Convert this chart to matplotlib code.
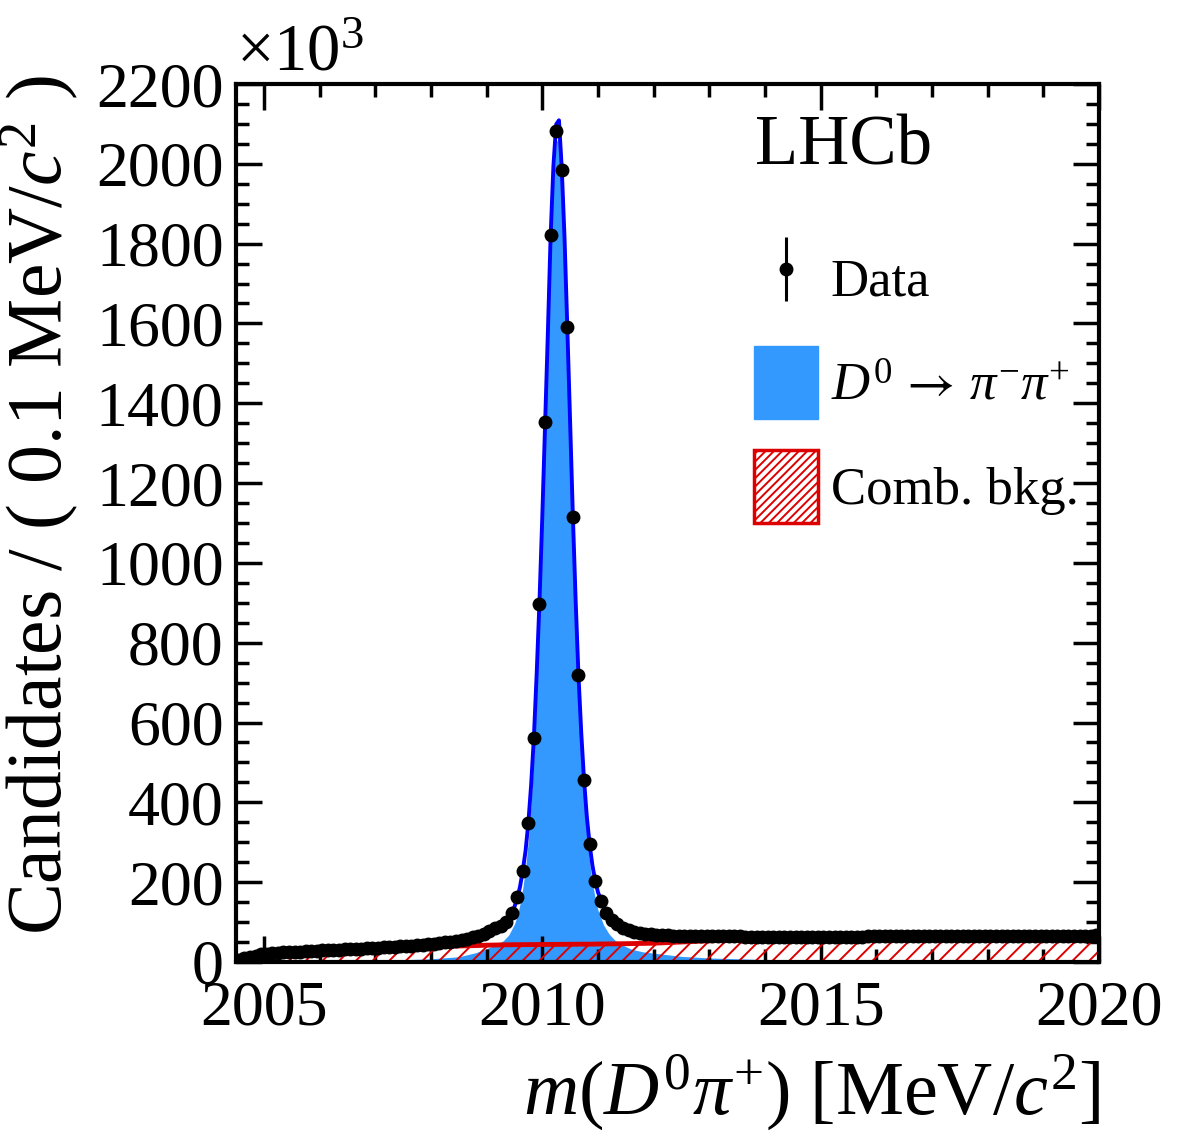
import numpy as np
import matplotlib
matplotlib.use("Agg")
import matplotlib.pyplot as plt
from matplotlib.legend_handler import HandlerErrorbar
from matplotlib.patches import Patch
from matplotlib.ticker import MultipleLocator

plt.rcParams["font.family"] = "Liberation Serif"
plt.rcParams["mathtext.fontset"] = "custom"
plt.rcParams["mathtext.rm"] = "Liberation Serif"
plt.rcParams["mathtext.it"] = "Liberation Serif:italic"
plt.rcParams["mathtext.bf"] = "Liberation Serif:bold"
plt.rcParams["mathtext.sf"] = "STIXGeneral"  # only used for the long arrow
plt.rcParams["hatch.linewidth"] = 1.4

# binning: 0.1 MeV bins from 2004.5 to 2020
BIN_LO, BIN_HI, BIN_W = 2004.5, 2020.0, 0.1

# data, candidates per bin in units of 10^3
data_left = [6, 10, 13, 16, 19, 21, 22, 23, 24, 25,
             25.5, 26, 27, 27.5, 28, 29, 29.5, 30, 31, 31.5,
             32, 33, 33.5, 34, 35, 36, 36.5, 37, 38, 39,
             40, 41, 42, 43, 44.5, 46, 47.5, 49, 51, 53,
             55.5, 58, 62, 66, 71, 77, 84, 91]
data_peak = [101, 123, 162, 229, 349, 560, 896, 1354, 1821, 2081,
             1984, 1590, 1115, 718, 456, 295, 203, 153, 123, 106,
             94, 86, 80, 76, 73, 71, 69.5, 68.5, 67.5, 66.5,
             66, 65.5, 65.2]
data_right = [65.0, 64.8, 64.6, 64.4, 64.3, 64.1, 64.0, 63.9, 63.8, 63.8,
              63.7, 63.6, 63.6, 63.5, 63.5, 63.4, 63.4, 63.3, 63.4, 63.3,
              63.3, 63.4, 63.3, 63.4, 63.4, 63.5, 63.4, 63.5, 63.6, 63.6,
              63.7, 63.7, 63.8, 63.8, 63.9, 64.0, 64.0, 64.1, 64.1, 64.2,
              64.3, 64.3, 64.4, 64.4, 64.5, 64.6, 64.6, 64.7, 64.7, 64.8,
              64.9, 64.9, 65.0, 65.1, 65.1, 65.2, 65.2, 65.3, 65.4, 65.4,
              65.5, 65.5, 65.6, 65.7, 65.7, 65.8, 65.8, 65.9, 66.0, 66.0,
              66.1, 66.1, 66.2, 66.3]

# fit components (10^3 per 0.1 MeV) on a grid, fine around the peak
fit_x = [2004.5, 2004.6, 2004.8, 2005.0, 2005.5, 2006.0, 2006.5, 2007.0,
         2007.5, 2008.0, 2008.5, 2008.8, 2009.0, 2009.2, 2009.3, 2009.4,
         2009.5, 2009.55, 2009.6, 2009.65, 2009.7, 2009.75, 2009.8, 2009.85,
         2009.9, 2009.95, 2010.0, 2010.05, 2010.1, 2010.15, 2010.2, 2010.25,
         2010.3, 2010.35, 2010.4, 2010.45, 2010.5, 2010.55, 2010.6, 2010.65,
         2010.7, 2010.75, 2010.8, 2010.85, 2010.9, 2010.95, 2011.0, 2011.1,
         2011.2, 2011.3, 2011.4, 2011.6, 2011.8, 2012.0, 2012.5, 2013.0,
         2014.0, 2015.0, 2016.0, 2017.0, 2018.0, 2019.0, 2020.0]
fit_sig = [0, 0.5, 1, 1.5, 2, 3, 3.5, 4.5,
           5.5, 8, 13, 23, 33, 46, 53, 68,
           95, 115, 145, 185, 235, 305, 400, 520,
           680, 860, 1070, 1300, 1530, 1775, 1950, 2055,
           2065, 1945, 1770, 1545, 1310, 1072, 860, 675,
           530, 412, 320, 251, 198, 160, 130, 93,
           70, 55, 45, 32, 25.5, 22, 14, 10,
           6, 4, 3, 2.5, 2, 1.5, 1]
fit_bkg = [0, 8, 13, 18.5, 22, 26, 29, 32,
           35, 37.5, 40, 41, 42, 42.5, 43, 43,
           43.2, 43.3, 43.3, 43.4, 43.4, 43.5, 43.5, 43.6,
           43.6, 43.7, 43.8, 43.8, 43.9, 43.9, 44.0, 44.0,
           44.1, 44.1, 44.2, 44.2, 44.3, 44.3, 44.4, 44.4,
           44.5, 44.5, 44.6, 44.6, 44.7, 44.7, 45.0, 45.1,
           45.3, 45.4, 45.6, 46.0, 46.5, 47.0, 50.0, 53.0,
           57.0, 59.5, 61.0, 62.0, 63.0, 64.0, 65.3]

SIG_COLOR = "#3399ff"
BKG_COLOR = "#dd0000"

counts = np.array(data_left + data_peak + data_right)
centers = BIN_LO + BIN_W * (np.arange(len(counts)) + 0.5)
errs = np.sqrt(counts * 1e3) / 1e3
fx = np.array(fit_x)
sig = np.array(fit_sig)
bkg = np.array(fit_bkg)
total = sig + bkg

fig = plt.figure(figsize=(11.82, 11.46), dpi=100)
ax = fig.add_axes([0.1997, 0.1606, 0.7301, 0.7661])

ax.fill_between(fx, 0, sig, color=SIG_COLOR, lw=0, zorder=1)
ax.fill_between(fx, 0, bkg, facecolor="none", edgecolor=BKG_COLOR,
                hatch="//", lw=0, zorder=2)
ax.plot(fx, bkg, color=BKG_COLOR, lw=3.5, zorder=3)
ax.plot(fx, total, color="blue", lw=2.8, zorder=4)
eb = ax.errorbar(centers, counts, yerr=errs, fmt="o", color="black", ms=9,
                 elinewidth=2.2, capsize=0, zorder=5)

ax.set_xlim(BIN_LO, BIN_HI)
ax.set_ylim(0, 2200)
ax.xaxis.set_major_locator(MultipleLocator(5))
ax.xaxis.set_minor_locator(MultipleLocator(1))
ax.yaxis.set_major_locator(MultipleLocator(200))
ax.yaxis.set_minor_locator(MultipleLocator(50))
ax.tick_params(which="both", direction="in", top=True, right=True,
               width=2.5, labelsize=46)
ax.tick_params(which="major", length=19)
ax.tick_params(which="minor", length=9.5)
ax.tick_params(axis="x", pad=13)
ax.tick_params(axis="y", pad=9)
for s in ax.spines.values():
    s.set_linewidth(3)

ax.text(0.0, 1.0, r"$\times10^{3}$", transform=ax.transAxes, fontsize=48,
        ha="left", va="bottom")
ax.text(0.601, 0.928, "LHCb", transform=ax.transAxes, fontsize=51,
        ha="left", va="center")

fig.text(0.034, 0.9346, r"Candidates / ( 0.1 MeV/$c^2$ )", rotation=90,
         fontsize=56, ha="center", va="top")
fig.text(0.931, 0.012, r"$m(D^0\pi^{+})$ [MeV/$c^2$]", fontsize=55,
         ha="right", va="bottom")

handles = [
    eb,
    Patch(facecolor=SIG_COLOR, edgecolor=SIG_COLOR),
    Patch(facecolor="white", edgecolor=BKG_COLOR, hatch="////", lw=2.5),
]
labels = ["Data", r"$D^0\,\mathsf{\rightarrow}\,\pi^{-}\pi^{+}$", "Comb. bkg."]
ax.legend(handles, labels, loc="upper left",
          bbox_to_anchor=(0.570, 0.85), fontsize=38, frameon=False,
          handlelength=1.2, handleheight=1.76, handletextpad=0.25,
          labelspacing=0.58, borderpad=0,
          handler_map={eb: HandlerErrorbar(xerr_size=0.6)})

fig.savefig("out.png", dpi=100)
